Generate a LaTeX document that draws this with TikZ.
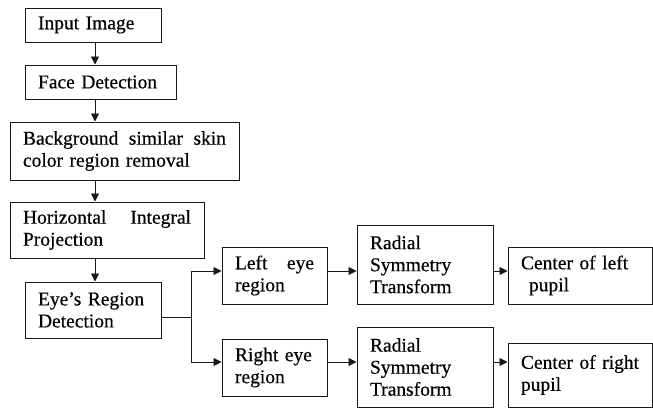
\documentclass[tikz,border=0pt]{standalone}
\usepackage{fontspec}
\setmainfont[FakeBold=0.4]{Liberation Serif}
\usepackage{tikz}
\usetikzlibrary{arrows.meta}
\definecolor{mydark}{RGB}{25,25,25}
\tikzset{
  box/.style={rectangle, draw=mydark, line width=1pt, align=left,
    inner xsep=13pt, inner ysep=0pt, text=black,
    font=\fontsize{19.5}{22}\selectfont},
  arrow/.style={-{Triangle[length=8pt,width=8pt]}, line width=0.9pt, color=mydark},
  line/.style={line width=0.9pt, color=mydark}
}

\begin{document}
\begin{tikzpicture}[x=1pt, y=-1pt]
  \useasboundingbox (0,0) rectangle (653,410);
  % left column
  \node[box, text width=110pt, minimum height=34pt] (input) at (93,25) {Input Image};
  \node[box, text width=125pt, minimum height=34pt] (face) at (100.5,82) {Face Detection};
  \node[box, text width=203pt, minimum height=58pt] (bgrem) at (124.5,151)
    {Background\hfill similar\hfill skin\\color region removal};
  \node[box, text width=168pt, minimum height=56pt] (hproj) at (107,230)
    {Horizontal\hfill Integral\\Projection};
  \node[box, text width=110pt, minimum height=56pt] (eyes) at (93,310)
    {Eye’s Region\\Detection};
  % eye branches
  \node[box, text width=79pt, minimum height=57pt] (lefteye) at (274.5,275.5)
    {Left\hfill eye\\region};
  \node[box, text width=79pt, minimum height=57pt] (righteye) at (274.5,367.5)
    {Right eye\\region};
  \node[box, text width=110pt, minimum height=79pt] (rstleft) at (425,264.5)
    {Radial\\Symmetry\\Transform};
  \node[box, text width=110pt, minimum height=80pt] (rstright) at (425,367)
    {Radial\\Symmetry\\Transform};
  \node[box, text width=118pt, minimum height=57pt] (pupleft) at (580,275.5)
    {\mbox{Center of left}\\\hspace*{8pt}pupil};
  \node[box, text width=118pt, minimum height=64pt] (pupright) at (580,375)
    {\mbox{Center of right}\\pupil};

  \coordinate (spine) at (95,0);
  \coordinate (split) at (191,317);
  \coordinate (rowa) at (0,271);
  \coordinate (rowb) at (0,362);

  \draw[arrow] (input.south -| spine) -- (face.north -| spine);
  \draw[arrow] (face.south -| spine) -- (bgrem.north -| spine);
  \draw[arrow] (bgrem.south -| spine) -- (hproj.north -| spine);
  \draw[arrow] (hproj.south -| spine) -- (eyes.north -| spine);
  \draw[line] (eyes.east |- split) -- (split);
  \draw[arrow] (split) |- (lefteye.west |- rowa);
  \draw[arrow] (split) |- (righteye.west |- rowb);
  \draw[arrow] (lefteye.east |- rowa) -- (rstleft.west |- rowa);
  \draw[arrow] (righteye.east |- rowb) -- (rstright.west |- rowb);
  \draw[arrow] (rstleft.east |- rowa) -- (pupleft.west |- rowa);
  \draw[arrow] (rstright.east |- rowb) -- (pupright.west |- rowb);
\end{tikzpicture}
\end{document}
